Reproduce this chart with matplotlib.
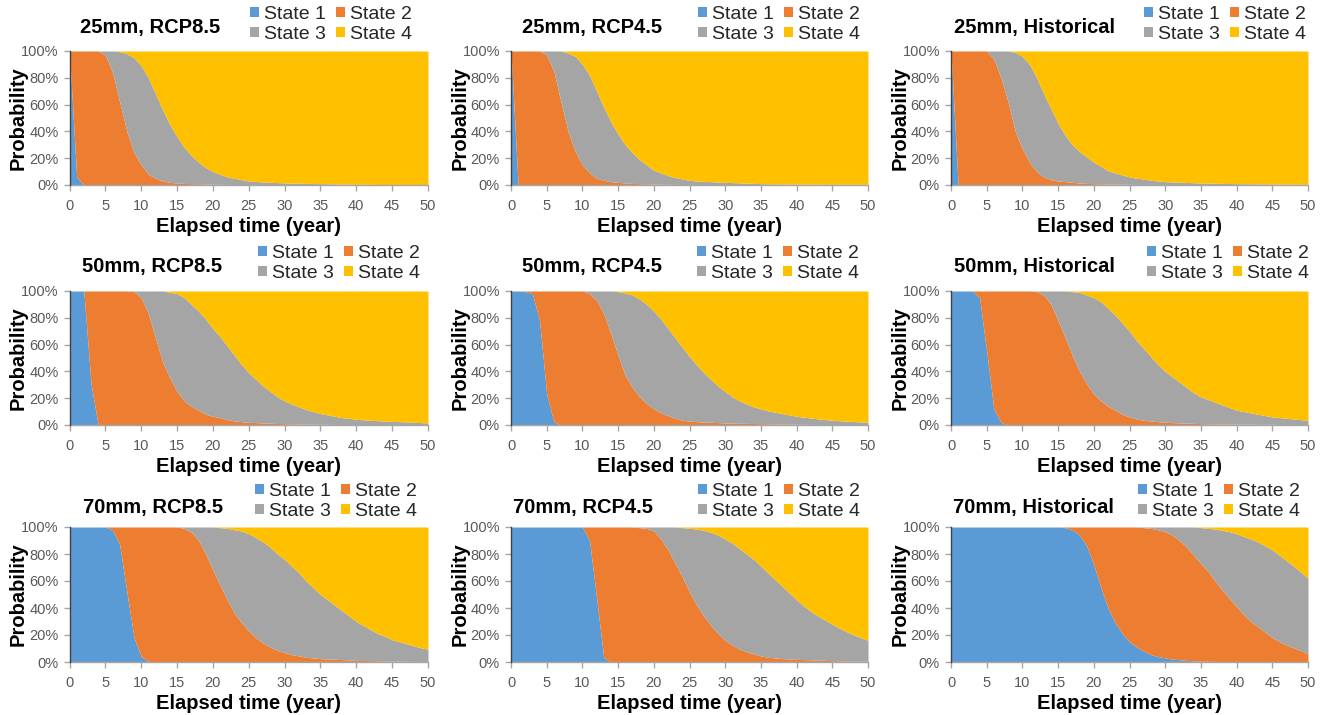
import matplotlib
matplotlib.use("Agg")
import matplotlib.pyplot as plt
from matplotlib.patches import Patch
from matplotlib.ticker import FuncFormatter
import numpy as np

plt.rcParams['font.family'] = ['Liberation Sans', 'DejaVu Sans']

years = list(range(0, 51))
states = ["State 1", "State 2", "State 3", "State 4"]
colors = ["#5B9BD5", "#ED7D31", "#A5A5A5", "#FFC000"]

titles = [
    "25mm, RCP8.5", "25mm, RCP4.5", "25mm, Historical",
    "50mm, RCP8.5", "50mm, RCP4.5", "50mm, Historical",
    "70mm, RCP8.5", "70mm, RCP4.5", "70mm, Historical",
]

# Cumulative probability (%) of being in state <= k, one value per year 0..50.
# ---- 25mm, RCP8.5
cum1_25_85 = [100, 6, 0, 0, 0, 0, 0, 0, 0, 0,
              0, 0, 0, 0, 0, 0, 0, 0, 0, 0,
              0, 0, 0, 0, 0, 0, 0, 0, 0, 0,
              0, 0, 0, 0, 0, 0, 0, 0, 0, 0,
              0, 0, 0, 0, 0, 0, 0, 0, 0, 0,
              0]
cum2_25_85 = [100, 100, 100, 100, 100, 97, 84, 62, 40, 24,
              15, 8, 5, 3, 2, 1.5, 1.2, 1, 1, 0.8,
              0.6, 0.5, 0.4, 0.3, 0.3, 0.2, 0.2, 0.2, 0.1, 0.1,
              0.1, 0.1, 0.1, 0.1, 0.1, 0.1, 0, 0, 0, 0,
              0, 0, 0, 0, 0, 0, 0, 0, 0, 0,
              0]
cum3_25_85 = [100, 100, 100, 100, 100, 100, 100, 99.5, 98, 95,
              89, 80, 68, 56, 45, 36, 28, 22, 17, 13,
              10, 8, 6, 5, 4, 3, 2.6, 2.3, 2, 1.8,
              1.5, 1.4, 1.3, 1.2, 1.1, 1, 0.9, 0.8, 0.7, 0.6,
              0.5, 0.5, 0.5, 0.4, 0.4, 0.4, 0.3, 0.3, 0.3, 0.3,
              0.3]
# ---- 25mm, RCP4.5
cum1_25_45 = [100, 0, 0, 0, 0, 0, 0, 0, 0, 0,
              0, 0, 0, 0, 0, 0, 0, 0, 0, 0,
              0, 0, 0, 0, 0, 0, 0, 0, 0, 0,
              0, 0, 0, 0, 0, 0, 0, 0, 0, 0,
              0, 0, 0, 0, 0, 0, 0, 0, 0, 0,
              0]
cum2_25_45 = [100, 100, 100, 100, 100, 97, 85, 62, 40, 25,
              15, 9, 5, 3.5, 2.5, 2, 1.5, 1.2, 1, 0.9,
              0.8, 0.6, 0.5, 0.4, 0.3, 0.3, 0.2, 0.2, 0.2, 0.2,
              0.1, 0.1, 0.1, 0.1, 0.1, 0.1, 0.1, 0.1, 0.1, 0.1,
              0, 0, 0, 0, 0, 0, 0, 0, 0, 0,
              0]
cum3_25_45 = [100, 100, 100, 100, 100, 100, 100, 100, 98.5, 96,
              90, 82, 70, 58, 47, 38, 30, 24, 19, 15,
              11, 9, 7, 5.5, 4.5, 3.5, 3, 2.7, 2.5, 2.2,
              2, 1.8, 1.6, 1.4, 1.2, 1, 0.9, 0.8, 0.8, 0.7,
              0.7, 0.6, 0.6, 0.6, 0.5, 0.5, 0.5, 0.5, 0.5, 0.5,
              0.5]
# ---- 25mm, Historical
cum1_25_hi = [100, 0, 0, 0, 0, 0, 0, 0, 0, 0,
              0, 0, 0, 0, 0, 0, 0, 0, 0, 0,
              0, 0, 0, 0, 0, 0, 0, 0, 0, 0,
              0, 0, 0, 0, 0, 0, 0, 0, 0, 0,
              0, 0, 0, 0, 0, 0, 0, 0, 0, 0,
              0]
cum2_25_hi = [100, 100, 100, 100, 100, 100, 94, 80, 62, 40,
              27, 17, 10, 6, 4, 3, 2.5, 2, 1.5, 1.2,
              1, 0.9, 0.8, 0.7, 0.6, 0.5, 0.4, 0.4, 0.3, 0.3,
              0.3, 0.2, 0.2, 0.2, 0.2, 0.2, 0.1, 0.1, 0.1, 0.1,
              0.1, 0.1, 0.1, 0.1, 0.1, 0.1, 0.1, 0.1, 0.1, 0.1,
              0.1]
cum3_25_hi = [100, 100, 100, 100, 100, 100, 100, 100, 100, 99,
              96, 90, 80, 68, 57, 46, 37, 30, 25, 21,
              17, 14, 10.5, 9, 7.5, 6, 5, 4.5, 3.5, 3,
              2.5, 2.3, 2.1, 1.9, 1.7, 1.5, 1.4, 1.3, 1.2, 1.1,
              1, 0.9, 0.9, 0.8, 0.8, 0.7, 0.7, 0.6, 0.6, 0.5,
              0.5]
# ---- 50mm, RCP8.5
cum1_50_85 = [100, 100, 100, 31, 0, 0, 0, 0, 0, 0,
              0, 0, 0, 0, 0, 0, 0, 0, 0, 0,
              0, 0, 0, 0, 0, 0, 0, 0, 0, 0,
              0, 0, 0, 0, 0, 0, 0, 0, 0, 0,
              0, 0, 0, 0, 0, 0, 0, 0, 0, 0,
              0]
cum2_50_85 = [100, 100, 100, 100, 100, 100, 100, 100, 100, 99.5,
              95, 83, 65, 47, 35, 25, 18, 14, 11, 8,
              6.5, 5.5, 4, 3, 2.5, 2, 1.8, 1.5, 1.3, 1.1,
              1, 0.9, 0.8, 0.7, 0.6, 0.5, 0.5, 0.4, 0.4, 0.3,
              0.3, 0.3, 0.3, 0.3, 0.2, 0.2, 0.2, 0.2, 0.2, 0.2,
              0.2]
cum3_50_85 = [100, 100, 100, 100, 100, 100, 100, 100, 100, 100,
              100, 100, 100, 100, 99, 98, 95, 90, 85, 79,
              72, 66, 59, 52, 45, 39, 34, 29, 25, 21,
              18, 15.5, 13.5, 11.5, 10, 8.5, 7.5, 6.5, 5.5, 5,
              4.2, 3.9, 3.5, 3.2, 3, 2.7, 2.5, 2.3, 2, 1.8,
              1.5]
# ---- 50mm, RCP4.5
cum1_50_45 = [100, 100, 99.5, 98, 78, 23, 2.5, 0, 0, 0,
              0, 0, 0, 0, 0, 0, 0, 0, 0, 0,
              0, 0, 0, 0, 0, 0, 0, 0, 0, 0,
              0, 0, 0, 0, 0, 0, 0, 0, 0, 0,
              0, 0, 0, 0, 0, 0, 0, 0, 0, 0,
              0]
cum2_50_45 = [100, 100, 100, 100, 100, 100, 100, 100, 100, 100,
              100, 98, 93, 83, 68, 52, 37, 28, 21, 16,
              12, 9, 7, 5, 3.5, 3, 2.5, 2.2, 2, 1.8,
              1.5, 1.4, 1.3, 1.2, 1.1, 1, 0.9, 0.8, 0.7, 0.6,
              0.5, 0.5, 0.4, 0.4, 0.4, 0.3, 0.3, 0.3, 0.3, 0.3,
              0.3]
cum3_50_45 = [100, 100, 100, 100, 100, 100, 100, 100, 100, 100,
              100, 100, 100, 100, 100, 99.5, 98.5, 97, 94, 90,
              85, 79, 72, 65, 58, 51, 45, 39, 34, 29,
              25, 21, 18, 15.5, 13.5, 12, 10.5, 9.5, 8.5, 7.5,
              6.5, 5.8, 5.2, 4.6, 4, 3.6, 3.2, 2.9, 2.6, 2.3,
              2]
# ---- 50mm, Historical
cum1_50_hi = [100, 100, 100, 100, 95, 55, 12, 2, 0, 0,
              0, 0, 0, 0, 0, 0, 0, 0, 0, 0,
              0, 0, 0, 0, 0, 0, 0, 0, 0, 0,
              0, 0, 0, 0, 0, 0, 0, 0, 0, 0,
              0, 0, 0, 0, 0, 0, 0, 0, 0, 0,
              0]
cum2_50_hi = [100, 100, 100, 100, 100, 100, 100, 100, 100, 100,
              100, 100, 99.5, 97, 90, 78, 65, 52, 40, 31,
              23, 18, 14, 11, 8, 6, 4.5, 3.5, 3, 2.5,
              2, 1.8, 1.6, 1.4, 1.2, 1, 0.9, 0.8, 0.8, 0.7,
              0.7, 0.6, 0.6, 0.5, 0.5, 0.5, 0.4, 0.4, 0.3, 0.3,
              0.3]
cum3_50_hi = [100, 100, 100, 100, 100, 100, 100, 100, 100, 100,
              100, 100, 100, 100, 100, 100, 100, 99.5, 99, 97,
              95, 92, 87, 82, 76, 70, 63, 57, 51, 45,
              40, 36, 32, 28, 24, 21, 19, 17, 15, 13,
              11, 10, 9, 8, 7, 6, 5.5, 5, 4.5, 4,
              3.5]
# ---- 70mm, RCP8.5
cum1_70_85 = [100, 100, 100, 100, 100, 100, 98, 87, 52, 18,
              4, 0.5, 0, 0, 0, 0, 0, 0, 0, 0,
              0, 0, 0, 0, 0, 0, 0, 0, 0, 0,
              0, 0, 0, 0, 0, 0, 0, 0, 0, 0,
              0, 0, 0, 0, 0, 0, 0, 0, 0, 0,
              0]
cum2_70_85 = [100, 100, 100, 100, 100, 100, 100, 100, 100, 100,
              100, 100, 100, 100, 100, 100, 99, 96, 90, 80,
              68, 57, 46, 36, 29, 23, 18, 14, 11, 8.5,
              7, 5.5, 4.5, 3.5, 3, 2.5, 2.3, 2, 1.8, 1.5,
              1.2, 1.1, 1, 0.9, 0.8, 0.6, 0.5, 0.5, 0.4, 0.4,
              0.3]
cum3_70_85 = [100, 100, 100, 100, 100, 100, 100, 100, 100, 100,
              100, 100, 100, 100, 100, 100, 100, 100, 100, 100,
              100, 99.5, 99, 98, 97, 95, 92, 89, 85, 80,
              76, 71, 66, 60, 55, 50, 46, 42, 38, 34,
              30, 27, 24, 21, 19, 16.5, 15, 13.5, 12, 10.5,
              9.5]
# ---- 70mm, RCP4.5
cum1_70_45 = [100, 100, 100, 100, 100, 100, 100, 100, 100, 100,
              100, 90, 47, 3, 0, 0, 0, 0, 0, 0,
              0, 0, 0, 0, 0, 0, 0, 0, 0, 0,
              0, 0, 0, 0, 0, 0, 0, 0, 0, 0,
              0, 0, 0, 0, 0, 0, 0, 0, 0, 0,
              0]
cum2_70_45 = [100, 100, 100, 100, 100, 100, 100, 100, 100, 100,
              100, 100, 100, 100, 100, 100, 100, 100, 99.5, 99,
              97, 91, 83, 73, 63, 52, 42, 34, 27, 21,
              16, 12.5, 9.5, 7.5, 6, 4.5, 3.5, 3, 2.5, 2.2,
              2, 1.8, 1.6, 1.4, 1.2, 1, 0.9, 0.8, 0.7, 0.6,
              0.5]
cum3_70_45 = [100, 100, 100, 100, 100, 100, 100, 100, 100, 100,
              100, 100, 100, 100, 100, 100, 100, 100, 100, 100,
              100, 100, 100, 100, 99.5, 99, 98.5, 97.5, 96, 94,
              91, 88, 84, 80, 76, 71, 66, 61, 56, 51,
              46, 41.5, 37.5, 34, 31, 28, 25, 22.5, 20, 18,
              16]
# ---- 70mm, Historical
cum1_70_hi = [100, 100, 100, 100, 100, 100, 100, 100, 100, 100,
              100, 100, 100, 100, 100, 100, 99.5, 98, 94, 86,
              72, 55, 40, 29, 21, 15, 11, 8, 5.5, 4,
              3, 2.2, 1.7, 1.2, 0.9, 0.6, 0.5, 0.4, 0.3, 0.2,
              0.2, 0.1, 0.1, 0.1, 0.1, 0, 0, 0, 0, 0,
              0]
cum2_70_hi = [100, 100, 100, 100, 100, 100, 100, 100, 100, 100,
              100, 100, 100, 100, 100, 100, 100, 100, 100, 100,
              100, 100, 100, 100, 100, 100, 100, 99.5, 99, 98,
              96.5, 94, 90, 85, 79, 73, 67, 60, 53, 47,
              41, 35, 30, 26, 22, 18, 15, 12.5, 10.5, 8.5,
              6]
cum3_70_hi = [100, 100, 100, 100, 100, 100, 100, 100, 100, 100,
              100, 100, 100, 100, 100, 100, 100, 100, 100, 100,
              100, 100, 100, 100, 100, 100, 100, 100, 100, 100,
              100, 100, 100, 100, 100, 99.5, 99, 98.5, 97.5, 96.5,
              95, 93, 91, 89, 86, 83, 79, 75, 71, 66.5,
              62]

panels = [
    (cum1_25_85, cum2_25_85, cum3_25_85),
    (cum1_25_45, cum2_25_45, cum3_25_45),
    (cum1_25_hi, cum2_25_hi, cum3_25_hi),
    (cum1_50_85, cum2_50_85, cum3_50_85),
    (cum1_50_45, cum2_50_45, cum3_50_45),
    (cum1_50_hi, cum2_50_hi, cum3_50_hi),
    (cum1_70_85, cum2_70_85, cum3_70_85),
    (cum1_70_45, cum2_70_45, cum3_70_45),
    (cum1_70_hi, cum2_70_hi, cum3_70_hi),
]

W, H = 1325, 715
fig = plt.figure(figsize=(W / 100, H / 100), dpi=100)

# Plot-area geometry in pixels (left, right) per column and (top, bottom) per row
col_x = [(69.5, 428), (511, 868), (951, 1308)]
row_y = [(51, 185), (291, 425), (527, 662)]
# Title left edge and legend anchor (right edge, top) in pixels
title_x = [[80, 522, 954], [82, 522, 954], [83, 513, 953]]
title_y = [28, 267, 507]
legend_right = [[412, 860, 1306], [420, 859, 1309], [417, 860, 1300]]
legend_top = [6, 245, 483]

tick_color = "#595959"

def fx(px):
    return px / W

def fy(py):
    return 1 - py / H

patches = [Patch(facecolor=c, edgecolor="none") for c in colors]
# legend fills column-wise, so interleave to read row-wise: 1 2 / 3 4
order = [0, 2, 1, 3]
handles = [patches[k] for k in order]
labels = [states[k] for k in order]

for i, (c1, c2, c3) in enumerate(panels):
    r, c = divmod(i, 3)
    x0, x1 = col_x[c]
    ytop, ybot = row_y[r]
    ax = fig.add_axes([fx(x0), fy(ybot), fx(x1) - fx(x0), fy(ytop) - fy(ybot)])
    x = np.array(years)
    a1, a2, a3 = np.array(c1), np.array(c2), np.array(c3)
    ax.fill_between(x, 0, a1, color=colors[0], linewidth=0)
    ax.fill_between(x, a1, a2, color=colors[1], linewidth=0)
    ax.fill_between(x, a2, a3, color=colors[2], linewidth=0)
    ax.fill_between(x, a3, 100, color=colors[3], linewidth=0)

    ax.set_xlim(0, 50)
    ax.set_ylim(0, 100)
    ax.set_xticks(range(0, 51, 5))
    ax.set_yticks(range(0, 101, 20))
    ax.yaxis.set_major_formatter(FuncFormatter(lambda v, p: f"{int(v)}%"))
    for s in ("top", "right"):
        ax.spines[s].set_visible(False)
    ax.spines["left"].set_color("#404040")
    ax.spines["left"].set_linewidth(1.0)
    ax.spines["bottom"].set_color("#A6A6A6")
    ax.spines["bottom"].set_linewidth(1.0)
    ax.spines["left"].set_zorder(5)
    ax.tick_params(axis="x", colors="#A6A6A6", labelcolor=tick_color, labelsize=10.5,
                   length=4, width=1, direction="out", pad=6)
    ax.tick_params(axis="y", colors="#A6A6A6", labelcolor=tick_color, labelsize=10.5,
                   length=4, width=1, direction="out", pad=4)

    ax.set_xlabel("Elapsed time (year)", fontsize=14.5, fontweight="bold", labelpad=3)
    ax.set_ylabel("Probability", fontsize=14.5, fontweight="bold", labelpad=-5)

    fig.text(fx(title_x[r][c]), fy(title_y[r]), titles[i], fontsize=14.5,
             fontweight="bold", ha="left", va="center")

    leg = ax.legend(handles, labels, ncol=2, loc="upper right",
                    bbox_to_anchor=(fx(legend_right[r][c]), fy(legend_top[r])),
                    bbox_transform=fig.transFigure, frameon=False, fontsize=14,
                    handlelength=0.45, handleheight=0.45, handletextpad=0.25,
                    columnspacing=0.55, labelspacing=0.14, borderpad=0,
                    borderaxespad=0)
    for t in leg.get_texts():
        t.set_color("#262626")

fig.savefig("out.png", dpi=100)
